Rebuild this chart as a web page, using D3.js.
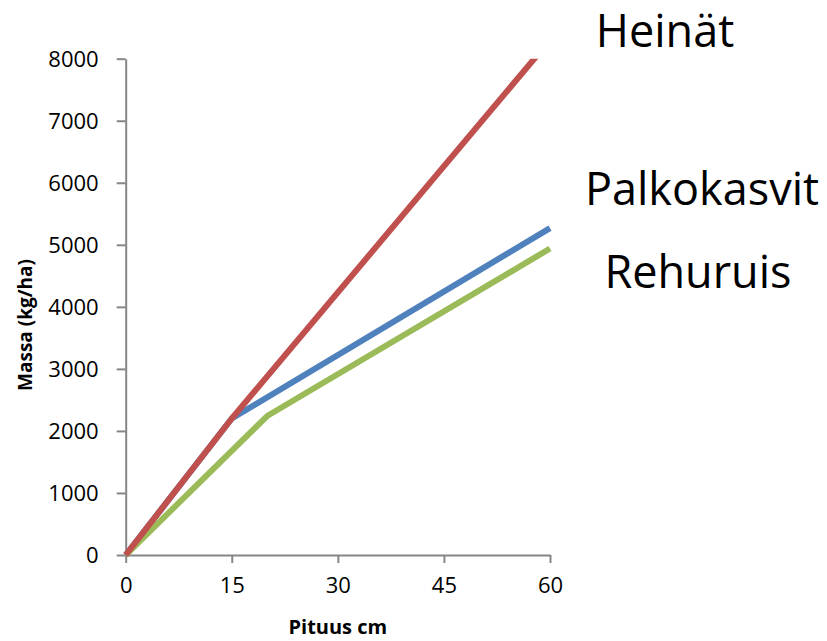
<!DOCTYPE html>
<html>
<head>
<meta charset="utf-8">
<script src="https://cdn.jsdelivr.net/npm/d3@7"></script>
<style>
  body { margin: 0; background: #fff; }
  text { font-family: "Open Sans", sans-serif; fill: #000; }
</style>
</head>
<body>
<script>
// data
const heinat = [[0, 0], [15, 2200], [60, 8300]];
const palkokasvit = [[0, 0], [15, 2200], [60, 5270]];
const rehuruis = [[0, 0], [20, 2240], [60, 4940]];
const xTicks = [0, 15, 30, 45, 60];
const yTicks = [0, 1000, 2000, 3000, 4000, 5000, 6000, 7000, 8000];
const seriesNames = ["Heinät", "Palkokasvit", "Rehuruis"];

const W = 827, H = 641;
const plotL = 125.7, plotR = 550, plotT = 58.7, plotB = 555;

const svg = d3.select("body").append("svg")
  .attr("width", W).attr("height", H);

const x = d3.scaleLinear().domain([0, 60]).range([plotL, plotR]);
const y = d3.scaleLinear().domain([0, 8000]).range([plotB, plotT]);

svg.append("clipPath").attr("id", "plot")
  .append("rect")
  .attr("x", 0).attr("y", plotT).attr("width", W).attr("height", plotB - plotT + 10);

// axes
const axisColor = "#868686";
const gx = svg.append("g")
  .attr("transform", `translate(0,${plotB})`)
  .call(d3.axisBottom(x).tickValues(xTicks).tickSize(8).tickPadding(14).tickSizeOuter(0));
const gy = svg.append("g")
  .attr("transform", `translate(${plotL},0)`)
  .call(d3.axisLeft(y).tickValues(yTicks).tickSize(9).tickPadding(18).tickSizeOuter(0)
    .tickFormat(d3.format("d")));

[gx, gy].forEach(g => {
  g.select(".domain").attr("stroke", axisColor).attr("stroke-width", 2);
  g.selectAll(".tick line").attr("stroke", axisColor).attr("stroke-width", 2);
  g.selectAll(".tick text")
    .attr("font-family", "Open Sans, sans-serif")
    .attr("font-size", 22).attr("fill", "#000");
});
gy.selectAll(".tick text").attr("dy", "0.36em");

// lines
const line = d3.line().x(d => x(d[0])).y(d => y(d[1]));
const series = [
  { data: palkokasvit, color: "#4F81BD" },
  { data: rehuruis, color: "#9BBB59" },
  { data: heinat, color: "#C0504D" }
];
svg.append("g").attr("clip-path", "url(#plot)")
  .selectAll("path")
  .data(series)
  .enter()
  .append("path")
  .attr("d", d => line(d.data))
  .attr("fill", "none")
  .attr("stroke", d => d.color)
  .attr("stroke-width", 6)
  .attr("stroke-linejoin", "round");

// series labels
const labelPos = [[665, 47], [702, 205], [698, 288]];
svg.selectAll("text.series")
  .data(seriesNames)
  .enter()
  .append("text")
  .attr("class", "series")
  .attr("x", (_, i) => labelPos[i][0])
  .attr("y", (_, i) => labelPos[i][1])
  .attr("text-anchor", "middle")
  .attr("font-size", 45)
  .text(d => d);

// axis titles
svg.append("text")
  .attr("x", (plotL + plotR) / 2).attr("y", 634)
  .attr("text-anchor", "middle")
  .attr("font-size", 20).attr("font-weight", "bold")
  .text("Pituus cm");

svg.append("text")
  .attr("transform", "translate(32,325) rotate(-90)")
  .attr("text-anchor", "middle")
  .attr("font-size", 19).attr("font-weight", "bold")
  .text("Massa (kg/ha)");
</script>
</body>
</html>
